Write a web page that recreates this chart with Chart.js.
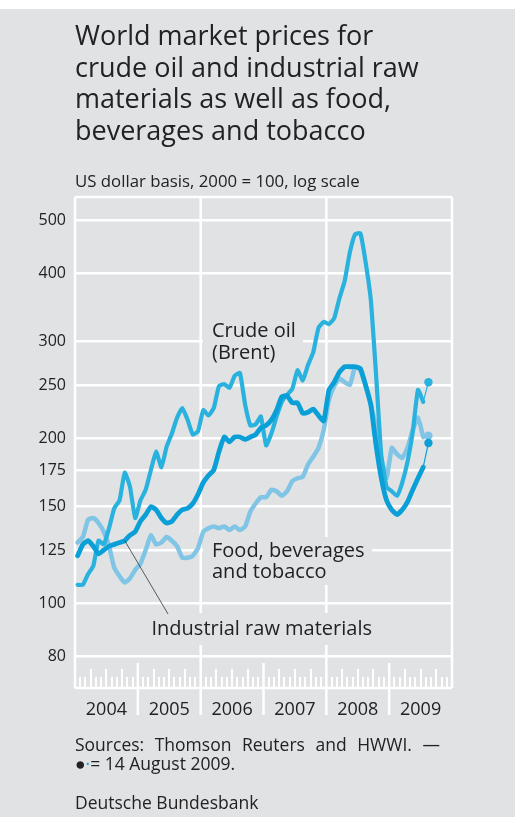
<!DOCTYPE html>
<html>
<head>
<meta charset="utf-8">
<script src="https://cdn.jsdelivr.net/npm/chart.js@4"></script>
<style>
  body { margin: 0; background: #fff; }
  #wrap { position: relative; width: 515px; height: 817px; background: #e1e2e4; overflow: hidden;
          font-family: "Open Sans", sans-serif; color: #222; }
  #topband { position: absolute; left: 0; top: 0; width: 515px; height: 9px; background: #fff; }
  canvas { position: absolute; left: 0; top: 0; }
  .txt { position: absolute; left: 75px; white-space: nowrap; }
  #title { top: 19px; font-size: 27px; line-height: 31.5px; }
  #subtitle { top: 170.5px; font-size: 16.8px; line-height: 20px; }
  #sources { top: 734.5px; width: 365px; font-size: 17.5px; line-height: 19px; }
  #sources .l1 { text-align: justify; text-align-last: justify; }
  #bbk { top: 792.5px; font-size: 17.5px; line-height: 19px; }
</style>
</head>
<body>
<div id="wrap">
  <div id="topband"></div>
  <canvas id="chart" width="515" height="817"></canvas>
  <div class="txt" id="title">World market prices for<br>crude oil and industrial raw<br>materials as well as food,<br>beverages and tobacco</div>
  <div class="txt" id="subtitle">US dollar basis, 2000 = 100, log scale</div>
  <div class="txt" id="sources">
    <div class="l1">Sources: Thomson Reuters and HWWI. —</div>
    <div>●<span style="color:#0a9fd6">·</span>= 14 August 2009.</div>
  </div>
  <div class="txt" id="bbk">Deutsche Bundesbank</div>
</div>
<script>
// monthly values, Jan 2004 .. Jul 2009 (2000 = 100)
const years = ['2004', '2005', '2006', '2007', '2008', '2009'];
const yTicks = [80, 100, 125, 150, 175, 200, 250, 300, 400, 500];

const crudeOil = [
  108, 108, 113, 117, 130, 128, 137, 149, 154, 173, 163, 143,
  154, 161, 175, 189, 177, 193, 204, 218, 227, 216, 203, 206,
  225, 220, 227, 249, 251, 247, 260, 263, 230, 211, 212, 219,
  194, 204, 219, 233, 240, 246, 266, 255, 272, 287, 318, 326,
  323, 331, 360, 387, 437, 471, 473, 419, 357, 261, 186, 163,
  160, 157, 166, 181, 205, 245, 233
];
const industrial = [
  122, 128, 130, 127, 123, 125, 127, 128, 129, 130, 133, 135,
  141, 145, 150, 148, 143, 140, 141, 145, 148, 149, 152, 158,
  166, 171, 175, 189, 201, 197, 201, 201, 199, 201, 203, 209,
  211, 216, 225, 238, 239, 232, 232, 222, 223, 226, 220, 215,
  245, 253, 264, 270, 270, 270, 268, 250, 230, 194, 169, 154,
  148, 145, 148, 153, 161, 169, 177
];
const food = [
  129, 132, 142, 143, 140, 135, 127, 116, 112, 109, 111, 115,
  118, 125, 133, 128, 129, 132, 130, 127, 121, 121, 122, 126,
  135, 137, 138, 137, 138, 136, 138, 136, 138, 147, 152, 156,
  156, 161, 160, 157, 160, 167, 169, 170, 179, 185, 192, 207,
  235, 249, 257, 253, 250, 270, 266, 249, 230, 209, 184, 169,
  192, 187, 184, 192, 207, 218, 201
];
// 14 August 2009
const crudeOilAug14 = 253;
const industrialAug14 = 196;
const foodAug14 = 202;

const colCrude = '#29b2de';
const colInd = '#0a9fd6';
const colFood = '#80c5e5';
const bg = '#e1e2e4';
const dotX = 67;

const pts = arr => arr.map((v, i) => ({ x: i, y: v }));
const tail = (arr, v) => [{ x: arr.length - 1, y: arr[arr.length - 1] }, { x: dotX, y: v }];

function lineDs(data, color, width) {
  return { data: pts(data), borderColor: color, borderWidth: width, pointRadius: 0,
           tension: 0.15, borderJoinStyle: 'round', borderCapStyle: 'round', fill: false };
}
function dotDs(data, v, color) {
  return { data: tail(data, v), borderColor: color, backgroundColor: color, borderWidth: 1.2,
           pointRadius: [0, 4.2], pointBorderWidth: 0, fill: false };
}

const labelBoxes = [
  { x: 203, y: 318, w: 100, h: 46 },
  { x: 203, y: 537, w: 169, h: 48 },
  { x: 146, y: 613, w: 230, h: 32 }
];
const labelTexts = [
  { t: 'Crude oil', x: 212, y: 337 },
  { t: '(Brent)', x: 212, y: 359 },
  { t: 'Food, beverages', x: 212, y: 556.5 },
  { t: 'and tobacco', x: 212, y: 578 },
  { t: 'Industrial raw materials', x: 151.5, y: 635 }
];

function seg(ctx, x1, y1, x2, y2) {
  ctx.beginPath(); ctx.moveTo(x1, y1); ctx.lineTo(x2, y2); ctx.stroke();
}

const decor = {
  id: 'decor',
  beforeDatasetsDraw(chart) {
    const { ctx, chartArea: a, scales: { x } } = chart;
    ctx.save();
    ctx.strokeStyle = '#fff';
    ctx.lineWidth = 2.5;
    seg(ctx, a.left, a.top, a.right, a.top);
    seg(ctx, a.left, a.bottom, a.right, a.bottom);
    // month ticks in the bottom strip
    ctx.lineWidth = 2;
    for (let m = 1; m < years.length * 12; m++) {
      if (m % 12 === 0) continue;
      const px = Math.round(x.getPixelForValue(m - 0.5));
      seg(ctx, px, a.bottom - (m % 3 === 0 ? 19 : 11), px, a.bottom);
    }
    // year separators
    ctx.lineWidth = 2.5;
    for (let k = 0; k <= years.length; k++) {
      const px = x.getPixelForValue(12 * k - 0.5);
      const top = k % 2 === 0 ? a.top : a.bottom - 25;
      const bot = (k === 0 || k === years.length) ? a.bottom : a.bottom + 27;
      seg(ctx, px, top, px, bot);
    }
    ctx.fillStyle = bg;
    labelBoxes.forEach(b => ctx.fillRect(b.x, b.y, b.w, b.h));
    ctx.restore();
  },
  afterDatasetsDraw(chart) {
    const { ctx, scales: { x, y } } = chart;
    ctx.save();
    ctx.strokeStyle = '#333';
    ctx.lineWidth = 0.8;
    seg(ctx, x.getPixelForValue(9), y.getPixelForValue(industrial[9]), 168, 614);
    ctx.fillStyle = '#222';
    ctx.font = '20px "Open Sans"';
    ctx.textBaseline = 'alphabetic';
    labelTexts.forEach(l => ctx.fillText(l.t, l.x, l.y));
    ctx.restore();
  }
};

new Chart(document.getElementById('chart').getContext('2d'), {
  type: 'line',
  data: {
    datasets: [
      dotDs(industrial, industrialAug14, colInd),
      dotDs(crudeOil, crudeOilAug14, colCrude),
      dotDs(food, foodAug14, colFood),
      lineDs(industrial, colInd, 4.8),
      lineDs(crudeOil, colCrude, 4.2),
      lineDs(food, colFood, 4.5)
    ]
  },
  options: {
    responsive: false,
    animation: false,
    events: [],
    layout: { padding: { top: 197, right: 63, left: 0, bottom: 0 } },
    plugins: { legend: { display: false }, tooltip: { enabled: false } },
    scales: {
      x: {
        type: 'linear', min: -0.5, max: 71.5,
        afterFit: s => { s.height = 129; },
        afterBuildTicks: s => { s.ticks = years.map((yr, k) => ({ value: 12 * k + 5.5 })); },
        grid: { display: false, drawTicks: false },
        border: { display: false },
        ticks: { callback: (v, i) => years[i], autoSkip: false, maxRotation: 0, padding: 11,
                 color: '#222', font: { family: 'Open Sans', size: 18 } }
      },
      y: {
        type: 'logarithmic', min: 70, max: 551,
        afterFit: s => { s.width = 75; },
        afterBuildTicks: s => { s.ticks = yTicks.map(v => ({ value: v })); },
        grid: { color: '#fff', lineWidth: 2.5, drawTicks: false },
        border: { display: false },
        ticks: { callback: v => String(v), padding: 9, color: '#222',
                 font: { family: 'Open Sans', size: 16 } }
      }
    }
  },
  plugins: [decor]
});
</script>
</body>
</html>
